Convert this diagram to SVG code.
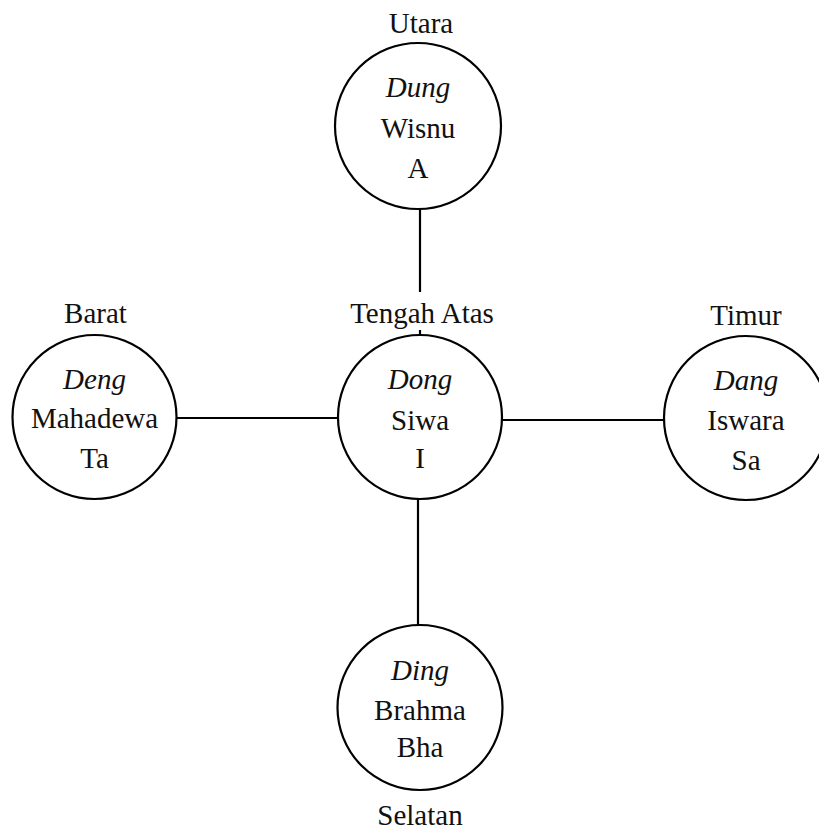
<svg xmlns="http://www.w3.org/2000/svg" width="819" height="834" viewBox="0 0 819 834">
<style>
.bg{fill:#ffffff}
.edge{stroke:#000;stroke-width:2.2;fill:none}
.node{fill:#fff;stroke:#000;stroke-width:2.2}
text{font-family:"Liberation Serif","Times New Roman",serif;font-size:29px;fill:#111;text-anchor:middle}
.it{font-style:italic}
</style>
<rect class="bg" x="0" y="0" width="819" height="834"/>
<g id="connectors">
<line class="edge" x1="420" y1="209" x2="420" y2="335"/>
<line class="edge" x1="418" y1="498" x2="418" y2="625"/>
<line class="edge" x1="176" y1="418" x2="338" y2="418"/>
<line class="edge" x1="503" y1="420" x2="664" y2="420"/>
</g>
<g id="node-utara">
<circle class="node" cx="418" cy="126" r="83"/>
<text x="421" y="33">Utara</text>
<text class="it" x="418" y="97">Dung</text>
<text x="418" y="138">Wisnu</text>
<text x="418" y="178">A</text>
</g>
<g id="node-tengah">
<rect class="bg" x="346" y="292" width="150" height="38"/>
<text x="422" y="323">Tengah Atas</text>
<circle class="node" cx="420" cy="417" r="82"/>
<text class="it" x="420" y="389">Dong</text>
<text x="420" y="430">Siwa</text>
<text x="420" y="468">I</text>
</g>
<g id="node-barat">
<circle class="node" cx="94.5" cy="417" r="82"/>
<text x="95.5" y="323">Barat</text>
<text class="it" x="94.5" y="389">Deng</text>
<text x="94.5" y="428">Mahadewa</text>
<text x="94.5" y="468">Ta</text>
</g>
<g id="node-timur">
<circle class="node" cx="746" cy="418" r="82"/>
<text x="746" y="325">Timur</text>
<text class="it" x="746" y="390">Dang</text>
<text x="746" y="430">Iswara</text>
<text x="746" y="470">Sa</text>
</g>
<g id="node-selatan">
<circle class="node" cx="420" cy="707.5" r="82.5"/>
<text class="it" x="420" y="680">Ding</text>
<text x="420" y="720">Brahma</text>
<text x="420" y="757">Bha</text>
<text x="420" y="825">Selatan</text>
</g>
</svg>
